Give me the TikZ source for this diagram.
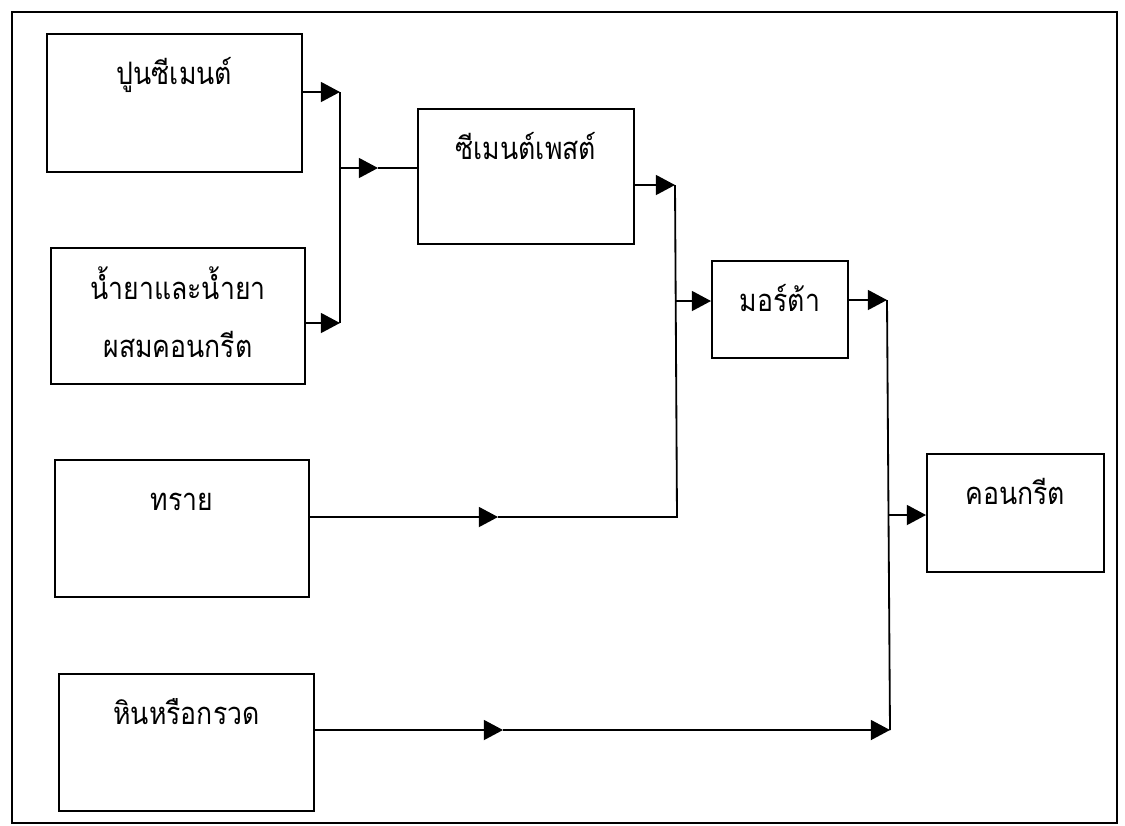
\documentclass[tikz,border=0pt]{standalone}
\usepackage{fontspec}
\newfontfamily\thaifont[Script=Thai, FakeStretch=0.86]{Loma}
\usetikzlibrary{arrows.meta}

\begin{document}
\begin{tikzpicture}[
        x=0.025cm, y=-0.025cm,
        >={Triangle[length=0.48cm, width=0.5cm]},
        line width=1.3pt,
        box/.style={draw, inner sep=0pt, anchor=north west, align=center,
                    text height=1.275cm,
                    font=\thaifont\fontsize{22}{26}\selectfont}
    ]
    \useasboundingbox (0,0) rectangle (1125,825);
    \draw (12,12) rectangle (1117,823);

    % ------- raw materials (left column) -------
    \node[box, minimum width=6.375cm, text depth=2.175cm] (cement) at (46,33) {ปูนซีเมนต์};
    \node[box, minimum width=6.35cm, text height=2.75cm, text depth=0.65cm] (liquid) at (50,247)
        {น้ำยาและน้ำยา\\[0.55cm]ผสมคอนกรีต};
    \node[box, minimum width=6.35cm, text depth=2.15cm] (sand) at (54,459) {ทราย};
    \node[box, minimum width=6.375cm, text depth=2.15cm] (gravel) at (58,673) {หินหรือกรวด};

    % ------- mixtures -------
    \node[box, minimum width=5.4cm, text depth=2.1cm] (paste) at (417,108) {ซีเมนต์เพสต์};
    \node[box, minimum width=3.4cm, text depth=1.15cm] (mortar) at (711,260) {มอร์ต้า};
    \node[box, minimum width=4.425cm, text depth=1.675cm] (concrete) at (926,453) {คอนกรีต};

    % junction points
    \coordinate (j1a) at (340,92);
    \coordinate (j1b) at (340,323);
    \coordinate (j1m) at (340,168);
    \coordinate (m1) at (378,168);
    \coordinate (j2a) at (675,185);
    \coordinate (j2b) at (677,517);
    \coordinate (j2m) at (676,301);
    \coordinate (m2) at (498,517);
    \coordinate (j3a) at (887,300);
    \coordinate (j3b) at (890,730);
    \coordinate (j3m) at (889,515);
    \coordinate (m3) at (503,730);

    % cement + liquid -> paste
    \draw[->] (cement.east |- j1a) -- (j1a);
    \draw[->] (liquid.east |- j1b) -- (j1b);
    \draw (j1a) -- (j1b);
    \draw[->] (j1m) -- (m1);
    \draw (m1) -- (paste.west |- m1);

    % paste + sand -> mortar
    \draw[->] (paste.east |- j2a) -- (j2a);
    \draw[->] (sand.east |- m2) -- (m2);
    \draw (m2) -- (j2b) -- (j2a);
    \draw[->] (j2m) -- (mortar.west |- j2m);

    % mortar + gravel -> concrete
    \draw[->] (mortar.east |- j3a) -- (j3a);
    \draw[->] (gravel.east |- m3) -- (m3);
    \draw[->] (m3) -- (j3b);
    \draw (j3a) -- (j3b);
    \draw[->] (j3m) -- (concrete.west |- j3m);

\end{tikzpicture}
\end{document}
